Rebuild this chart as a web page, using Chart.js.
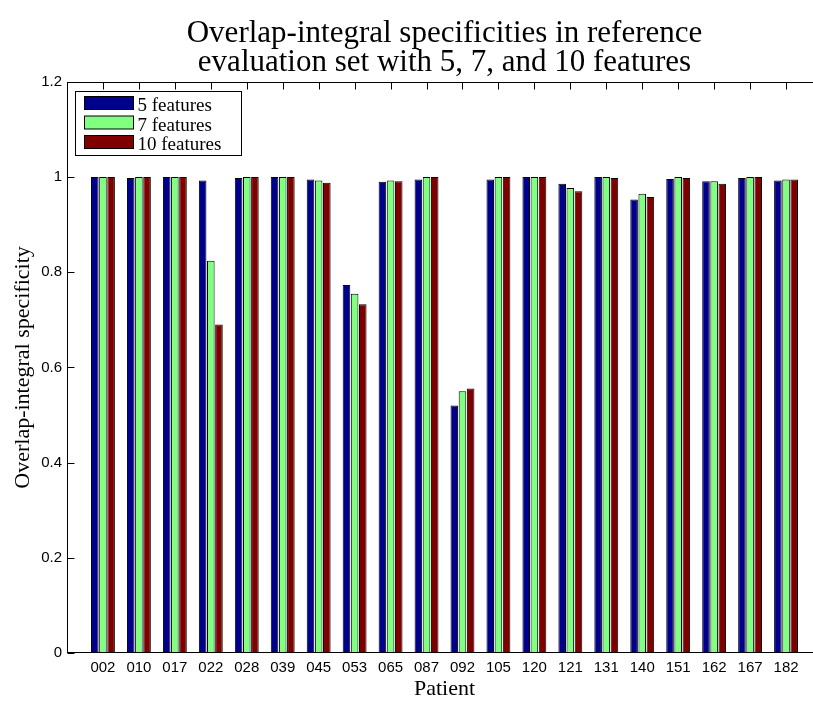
<!DOCTYPE html>
<html>
<head>
<meta charset="utf-8">
<script src="https://cdn.jsdelivr.net/npm/chart.js@4.4.1/dist/chart.umd.min.js"></script>
<style>
  html, body { margin: 0; padding: 0; overflow: hidden; background: #fff; }
  #wrap { position: relative; width: 840px; height: 702px; }
</style>
</head>
<body>
<div id="wrap"><canvas id="chart"></canvas></div>
<script>
// Patient identifiers along the x axis
const patients = ['002', '010', '017', '022', '028', '039', '045', '053', '065', '087',
                  '092', '105', '120', '121', '131', '140', '151', '162', '167', '182'];

// Overlap-integral specificity per patient for each feature-set size
const spec5  = [1.000, 0.998, 1.000, 0.993, 0.998, 1.000, 0.995, 0.773, 0.990, 0.995,
                0.520, 0.995, 1.000, 0.986, 1.000, 0.953, 0.996, 0.991, 0.998, 0.993];
const spec7  = [1.000, 1.000, 1.000, 0.824, 1.000, 1.000, 0.993, 0.755, 0.993, 1.000,
                0.550, 1.000, 1.000, 0.977, 1.000, 0.965, 1.000, 0.991, 1.000, 0.995];
const spec10 = [1.000, 1.000, 1.000, 0.690, 1.000, 1.000, 0.988, 0.733, 0.991, 1.000,
                0.556, 1.000, 1.000, 0.970, 0.998, 0.958, 0.998, 0.986, 1.000, 0.995];

const seriesNames = ['5 features', '7 features', '10 features'];
const seriesColors = ['#00008f', '#80ff80', '#800000'];

const yTicks = [0, 0.2, 0.4, 0.6, 0.8, 1, 1.2];

// The x range runs one category beyond each end, so pad with blank slots
const xLabels = [''].concat(patients, ['']);
const pad = arr => [null].concat(arr, [null]);

const serif = '"Liberation Serif", "Times New Roman", serif';
const sans = '"Liberation Sans", Arial, sans-serif';

// Box frame with inward tick marks on all four sides
const framePlugin = {
  id: 'frame',
  beforeDatasetsDraw(chart) {
    const { ctx, chartArea: a, scales: { x, y } } = chart;
    const L = Math.round(a.left) + 0.5, R = Math.round(a.right) - 0.5;
    const T = Math.round(a.top) + 0.5, B = Math.round(a.bottom) - 0.5;
    const tl = 7;
    ctx.save();
    ctx.strokeStyle = '#000';
    ctx.lineWidth = 1;
    ctx.beginPath();
    yTicks.forEach(v => {
      const py = Math.round(y.getPixelForValue(v)) + 0.5;
      ctx.moveTo(L, py); ctx.lineTo(L + tl, py);
      ctx.moveTo(R, py); ctx.lineTo(R - tl, py);
    });
    patients.forEach((p, i) => {
      const px = Math.round(x.getPixelForValue(i + 1)) + 0.5;
      ctx.moveTo(px, T); ctx.lineTo(px, T + tl);
      ctx.moveTo(px, B); ctx.lineTo(px, B - tl);
    });
    ctx.stroke();
    ctx.restore();
  },
  afterDatasetsDraw(chart) {
    const { ctx, chartArea: a } = chart;
    const L = Math.round(a.left) + 0.5, R = Math.round(a.right) - 0.5;
    const T = Math.round(a.top) + 0.5, B = Math.round(a.bottom) - 0.5;
    ctx.save();
    ctx.strokeStyle = '#000';
    ctx.lineWidth = 1;
    ctx.strokeRect(L, T, R - L, B - T);
    ctx.restore();
  }
};

// Boxed legend inside the upper-left corner of the plot
const boxLegendPlugin = {
  id: 'boxLegend',
  afterDraw(chart) {
    const { ctx, chartArea: a } = chart;
    const bx = Math.round(a.left) + 8.5, by = Math.round(a.top) + 9.5;
    const bw = 166, bh = 64;
    ctx.save();
    ctx.fillStyle = '#fff';
    ctx.fillRect(bx, by, bw, bh);
    ctx.strokeStyle = '#000';
    ctx.lineWidth = 1;
    ctx.strokeRect(bx, by, bw, bh);
    ctx.font = '19px ' + serif;
    ctx.textBaseline = 'alphabetic';
    ctx.textAlign = 'left';
    chart.data.datasets.forEach((ds, i) => {
      const sy = by + 5 + i * 19.5;
      ctx.fillStyle = ds.backgroundColor;
      ctx.fillRect(bx + 9, sy, 49, 13);
      ctx.strokeRect(bx + 9, sy, 49, 13);
      ctx.fillStyle = '#000';
      ctx.fillText(ds.label, bx + 62, sy + 14.5);
    });
    ctx.restore();
  }
};

const datasets = [spec5, spec7, spec10].map((vals, i) => ({
  label: seriesNames[i],
  data: pad(vals),
  backgroundColor: seriesColors[i],
  borderColor: '#000',
  borderWidth: 1,
  borderSkipped: false,
  categoryPercentage: 0.68,
  barPercentage: 0.93
}));

new Chart(document.getElementById('chart'), {
  type: 'bar',
  data: { labels: xLabels, datasets },
  plugins: [framePlugin, boxLegendPlugin],
  options: {
    responsive: true,
    maintainAspectRatio: false,
    animation: false,
    devicePixelRatio: 1,
    layout: { padding: { left: 0, right: 18, top: 0, bottom: 0 } },
    plugins: {
      legend: { display: false },
      tooltip: { enabled: false },
      title: {
        display: true,
        fullSize: false,
        text: ['Overlap-integral specificities in reference',
               'evaluation set with 5, 7, and 10 features'],
        color: '#000',
        font: { family: serif, size: 31, weight: 'normal', lineHeight: 0.95 },
        padding: { top: 19, bottom: 4 }
      }
    },
    scales: {
      x: {
        type: 'category',
        offset: false,
        grid: { display: false, drawTicks: false },
        border: { display: false },
        ticks: {
          color: '#000',
          font: { family: sans, size: 15 },
          padding: 6,
          autoSkip: false,
          maxRotation: 0
        },
        title: {
          display: true,
          text: 'Patient',
          color: '#000',
          font: { family: serif, size: 22 },
          padding: { top: 0, bottom: 0 }
        },
        afterFit(s) { s.height = 49; }
      },
      y: {
        min: 0,
        max: 1.2,
        afterBuildTicks(s) { s.ticks = yTicks.map(v => ({ value: v })); },
        grid: { display: false, drawTicks: false },
        border: { display: false },
        ticks: {
          color: '#000',
          font: { family: sans, size: 15 },
          padding: 5,
          callback: v => String(Number(v.toFixed(1)))
        },
        title: {
          display: true,
          text: 'Overlap-integral specificity',
          color: '#000',
          font: { family: serif, size: 22 },
          padding: { top: 10, bottom: 0 }
        },
        afterFit(s) { s.width = 67; }
      }
    }
  }
});
</script>
</body>
</html>
